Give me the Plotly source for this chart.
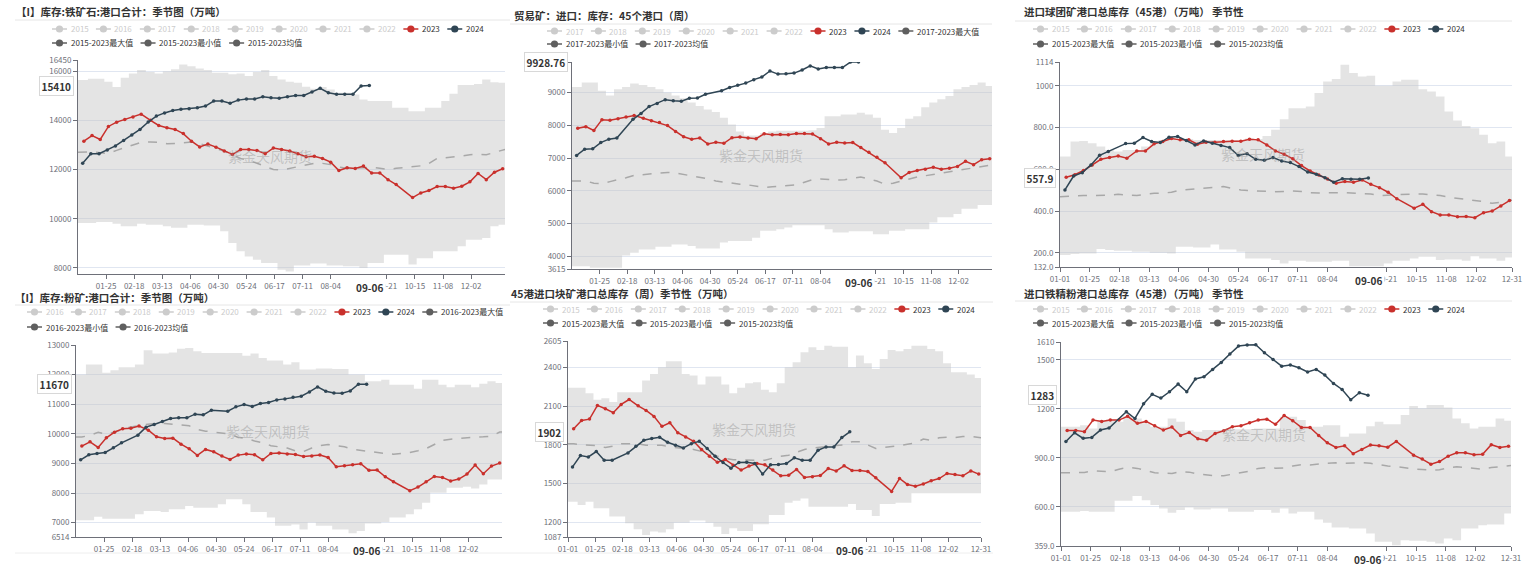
import plotly.graph_objects as go
import pandas as pd

W, H = 1532, 571
FONT = "Noto Sans CJK SC, Noto Sans, sans-serif"

# ---------------- x axis (month-day categories on a 366-day axis) ----------------
X_TICK_DAYS = [0, 24, 48, 72, 96, 120, 144, 168, 192, 216, 264, 288, 312, 336, 365]
X_TICK_TEXT = ['01-01', '01-25', '02-18', '03-13', '04-06', '04-30', '05-24', '06-17',
               '07-11', '08-04', '09-21', '10-15', '11-08', '12-02', '12-31']
LATEST_DAY = 249
LATEST_TEXT = '09-06'

# ---------------- panel 1: 铁矿石 港口合计 ----------------
P1_2023 = [13150, 13380, 13220, 13750, 13925, 14030, 14130, 14250, 14000, 13790,
           13700, 13630, 13460, 13150, 12920, 13040, 12910, 12750, 12610, 12810,
           12810, 12770, 12640, 12870, 12810, 12750, 12640, 12520, 12540, 12450,
           12300, 11960, 12070, 12040, 12140, 11860, 11860, 11590, 11390, None,
           10860, 11050, 11150, 11310, 11310, 11240, 11320, 11500, 11840, 11590,
           11890, 12030]
P1_2024 = [12260, 12640, 12640, 12790, 12960, 13180, 13400, 13630, 13930, 14170,
           14300, 14400, 14450, 14470, 14510, 14580, 14780, 14780, 14690, 14820,
           14870, 14870, 14960, 14920, 14900, 14960, 15010, 15010, 15150, 15300,
           15120, 15060, 15060, 15060, 15390, 15410]
P1_AVG = [12700, 12720, 12680, 12650, 12780, 12900, 13000, 13100, 13120, 13100,
          13050, 13060, 13100, 13120, 13050, 12950, 12850, 12750, 12600, 12450,
          12380, 12250, 12120, 12000, 11980, 12050, 12100, 12200, 12250, 12250,
          12200, 12100, 12050, 12050, 12080, 12100, 12050, 12000, 12050, 12080,
          12100, 12150, 12250, 12450, 12480, 12500, 12550, 12600, 12620, 12600,
          12700, 12820]
P1_MAX = [15640, 15690, 15690, 15570, 15350, 15730, 15900, 16040, 15960, 15900,
          15990, 16070, 16270, 16200, 16100, 16040, 15930, 15930, 15870, 15900,
          15800, 15960, 16040, 15800, 15660, 15570, 15530, 15360, 15280, 15350,
          15250, 15120, 15120, 15050, 14850, 14780, 14780, 14780, 14510, 14510,
          14370, 14370, 14510, 14510, 14780, 15080, 15430, 15430, 15480, 15660,
          15550, 15530]
P1_MIN = [9830, 9830, 9870, 9870, 9800, 9700, 9700, 9800, 9760, 9760,
          9700, 9630, 9630, 9760, 9760, 9730, 9730, 9490, 9020, 8680,
          8470, 8340, 8200, 8200, 7930, 7860, 8100, 8100, 8180, 8180,
          8100, 8100, 8070, 8070, 8000, 8200, 8200, 8540, 8540, 8540,
          8140, 8400, 8400, 8680, 8680, 8680, 8880, 9150, 9150, 9220,
          9700, 9760]

# ---------------- panel 2: 贸易矿 45港 ----------------
P2_2023 = [7905, 7957, 7840, 8170, 8150, 8200, 8255, 8300, 8215, 8140,
           8080, 7990, 7810, 7650, 7575, 7610, 7430, 7480, 7450, 7620,
           7640, 7610, 7590, 7740, 7710, 7720, 7710, 7750, 7750, 7730,
           7590, 7430, 7480, 7460, 7470, 7320, 7175, 7020, 6855, None,
           6400, 6560, 6620, 6660, 6720, 6660, 6690, 6745, 6900, 6795,
           6950, 6980]
P2_2024 = [7080, 7270, 7280, 7470, 7575, 7610, None, 8180, 8360, 8570,
           8665, 8780, 8750, 8730, 8820, 8830, 8945, None, 9050, 9150,
           9220, 9285, 9390, 9470, 9655, 9560, 9570, 9590, 9685, 9810,
           9715, 9760, 9760, 9760, 9925, 9928.76]
P2_AVG = [6300, 6300, 6230, 6220, 6280, 6330, 6400, 6470, 6500, 6520,
          6550, 6560, 6540, 6500, 6440, 6400, 6370, 6300, 6260, 6220,
          6200, 6180, 6150, 6100, 6120, 6140, 6150, 6180, 6260, 6340,
          6360, 6340, 6330, 6340, 6390, 6420, 6360, 6300, 6200, 6230,
          6300, 6370, 6420, 6460, 6500, 6540, 6590, 6640, 6660, 6700,
          6740, 6780]
P2_MAX = [9170, 9300, 9300, 9050, 8910, 9100, 9170, 9270, 9230, 9170,
          9100, 9000, 8910, 8820, 8690, 8585, 8480, 8400, 8225, 8020,
          7810, 7690, 7690, 7760, 7810, 7830, 7830, 7830, 7830, 7850,
          7915, 8275, 8275, 8330, 8330, 8380, 8330, 8225, 7865, 7760,
          7915, 8200, 8275, 8550, 8690, 8790, 8890, 9100, 9170, 9230,
          9300, 9200]
P2_MIN = [3700, 3700, 3650, 3650, 3650, 3650, 4025, 4110, 4210, 4210,
          4290, 4290, 4365, 4365, 4315, 4240, 4240, 4240, 4420, 4470,
          4470, 4470, 4570, 4780, 4780, 4830, 4880, 4950, 4950, 4950,
          4950, 4830, 4725, 4725, 4770, 4770, 4770, 4675, 4675, 4780,
          4780, 4830, 4830, 4830, 5035, 5190, 5190, 5290, 5450, 5450,
          5570, 5570]

# ---------------- panel 3: 球团矿 45港 ----------------
P3_2023 = [562, 574, 594, 621, 648, 656, 664, 653, 688, 688,
           722, 733, 747, 741, 741, 720, 730, 730, 733, 734,
           734, 744, 741, 717, 688, 672, 650, 618, 592, 573,
           554, 533, 541, 538, 549, 528, 512, 490, 459, None,
           414, 432, 397, 381, 381, 373, 374, 368, 392, 400,
           424, 450]
P3_2024 = [501, 568, 584, 621, 667, 685, None, 723, 725, 752,
           733, 728, 754, 757, 738, 717, 736, 725, 714, 704,
           666, 675, 648, 643, 656, 640, 632, 613, 587, 576,
           560, 538, 555, 552, 552, 557.9]
P3_AVG = [469, 472, 474, 474, 474, 476, 480, 478, 474, 480,
          485, 486, 490, 500, 504, 509, 512, 514, 517, 510,
          501, 498, 496, 494, 493, 494, 496, 494, 488, 486,
          488, 488, 488, 487, 486, 482, 474, 476, 480, 482,
          482, 482, 478, 474, 466, 461, 455, 453, 445, 437,
          442, 452]
P3_MAX = [661, 733, 736, 725, 709, 693, 685, 693, 693, 709,
          725, 740, 750, 745, 745, 740, 740, 740, 740, 740,
          740, 748, 745, 760, 789, 840, 893, 893, 901, 965,
          1021, 1032, 1101, 1061, 1045, 1048, 1000, 1000, 1021, 1029,
          1029, 984, 973, 949, 877, 834, 808, 797, 765, 725,
          733, 661]
P3_MIN = [189, 194, 197, 197, 218, 213, 210, 210, 205, 205,
          200, 200, 197, 229, 229, 226, 226, 240, 216, 216,
          205, 173, 173, 173, 165, 149, 162, 162, 157, 157,
          157, 162, 162, 136, 136, 136, 136, 149, 162, 162,
          173, 181, 181, 165, 168, 168, 162, 184, 173, 173,
          162, 178]

# ---------------- panel 4: 粉矿 港口合计 ----------------
P4_2023 = [9584, 9730, 9540, 9865, 10056, 10170, 10190, 10260, 10124, 9900,
           9843, 9854, 9650, 9494, 9270, 9472, 9393, 9247, 9135, 9280,
           9315, 9290, 9123, 9337, 9348, 9315, 9303, 9236, 9247, 9280,
           9202, 8887, 8920, 8955, 8990, 8765, 8775, 8550, 8380, None,
           8078, 8200, 8380, 8560, 8527, 8404, 8471, 8640, 8943, 8651,
           8910, 9011]
P4_2024 = [9123, 9290, 9337, 9370, 9528, 9696, None, 9955, 10225, 10315,
           10416, 10517, 10540, 10540, 10663, 10640, 10798, None, 10764, 10910,
           10989, 10922, 11023, 11057, 11146, 11180, 11236, 11270, 11416, 11585,
           11438, 11382, 11371, 11450, 11675, 11670]
P4_AVG = [9890, 9950, 10050, 9980, 10060, 10150, 10230, 10280, 10320, 10360,
          10350, 10330, 10300, 10270, 10150, 10090, 10060, 10030, 9990, 9880,
          9840, 9760, 9700, 9600, 9560, 9520, 9420, 9400, 9520, 9600,
          9640, 9600, 9560, 9480, 9440, 9410, 9370, 9330, 9310, 9340,
          9370, 9430, 9500, 9640, 9780, 9820, 9850, 9870, 9890, 9900,
          9920, 10060]
P4_MAX = [12000, 12340, 12340, 12060, 12150, 12250, 12250, 12340, 12820, 12710,
          12710, 12750, 12870, 12900, 12790, 12730, 12730, 12730, 12730, 12730,
          12640, 12710, 12560, 12480, 12480, 12340, 12420, 12170, 12170, 12210,
          12210, 12190, 12190, 12000, 12000, 11775, 11775, 11830, 11660, 11660,
          11660, 11520, 11830, 11830, 11660, 11570, 11660, 11660, 11570, 11690,
          11775, 11720]
P4_MIN = [7080, 7080, 7200, 7130, 7130, 7130, 7130, 7280, 7390, 7390,
          7360, 7450, 7450, 7560, 7500, 7500, 7500, 7620, 7790, 7790,
          7620, 7360, 7360, 7170, 6890, 6890, 6940, 6770, 7000, 6890,
          6890, 6770, 6770, 6640, 6720, 6970, 6970, 7020, 7170, 7170,
          7280, 7450, 7670, 8010, 8010, 8180, 8180, 8210, 8150, 8290,
          8460, 8460]

# ---------------- panel 5: 块矿 45港 ----------------
P5_2023 = [1926, 1990, 2000, 2106, 2080, 2050, 2114, 2152, 2103, 2067,
           2021, 1944, 1972, 1895, 1862, 1828, 1764, 1713, 1666, 1687,
           1643, 1605, 1636, 1656, 1646, 1605, 1561, 1566, 1610, 1548,
           1553, 1563, 1617, 1599, 1638, 1602, 1602, 1594, 1545, None,
           1440, 1540, 1494, 1481, 1497, 1522, 1540, 1579, 1571, 1561,
           1599, 1574]
P5_2024 = [1630, 1718, 1707, 1749, 1682, 1682, None, 1738, 1790, 1836,
           1849, 1859, 1821, 1797, 1777, 1810, 1828, 1772, 1713, 1664,
           1620, 1664, 1666, 1656, 1574, 1646, 1648, 1656, 1700, 1682,
           1682, 1759, 1785, 1785, 1857, 1902]
P5_AVG = [1810, 1800, 1800, 1795, 1780, 1790, 1810, 1810, 1808, 1797,
          1795, 1797, 1785, 1778, 1772, 1765, 1750, 1735, 1713, 1695,
          1685, 1682, 1678, 1680, 1682, 1700, 1713, 1720, 1740, 1765,
          1775, 1785, 1790, 1795, 1800, 1825, 1825, 1800, 1772, 1780,
          1785, 1795, 1805, 1815, 1845, 1836, 1855, 1860, 1857, 1865,
          1867, 1855]
P5_MAX = [2242, 2242, 2201, 2150, 2162, 2132, 2209, 2209, 2209, 2299,
          2350, 2402, 2448, 2448, 2350, 2337, 2268, 2330, 2330, 2268,
          2201, 2242, 2278, 2286, 2227, 2209, 2278, 2402, 2440, 2517,
          2556, 2535, 2569, 2561, 2561, 2402, 2492, 2432, 2389, 2466,
          2535, 2525, 2543, 2569, 2569, 2543, 2525, 2432, 2363, 2363,
          2345, 2319]
P5_MIN = [1360, 1335, 1360, 1309, 1309, 1245, 1245, 1193, 1147, 1103,
          1129, 1121, 1147, 1198, 1198, 1214, 1214, 1198, 1167, 1111,
          1154, 1134, 1134, 1185, 1185, 1257, 1257, 1353, 1368, 1386,
          1322, 1322, 1322, 1322, 1322, 1342, 1296, 1296, 1250, 1342,
          1342, 1353, 1353, 1425, 1425, 1425, 1425, 1425, 1425, 1425,
          1425, 1425]

# ---------------- panel 6: 铁精粉 45港 ----------------
P6_2023 = [1068, 1068, 1060, 1131, 1123, 1131, 1131, 1154, 1111, 1123,
           1096, 1070, 1088, 1037, 1055, 1017, 1008, 1049, 1066, 1090,
           1096, 1115, 1131, 1137, 1105, 1160, 1127, 1086, 1086, 1037,
           992, 963, 974, 925, 951, 978, 974, 965, 1000, None,
           916, 892, 861, 877, 910, 931, 931, 918, 922, 980,
           963, 970]
P6_2024 = [1000, 1053, 1019, 1025, 1070, 1082, None, 1182, 1141, 1231,
           1289, 1266, 1305, 1352, 1305, 1383, 1397, 1442, 1485, 1536,
           1585, 1591, 1593, 1544, 1503, 1462, 1469, 1452, 1426, 1442,
           1407, 1356, 1319, 1256, 1299, 1283]
P6_AVG = [808, 808, 810, 820, 816, 814, 830, 842, 835, 822,
          808, 806, 804, 815, 812, 800, 794, 790, 790, 798,
          808, 818, 835, 840, 836, 838, 850, 858, 856, 862,
          866, 869, 866, 868, 871, 866, 856, 850, 846, 838,
          832, 828, 824, 826, 838, 845, 840, 835, 830, 840,
          845, 852]
P6_MAX = [1090, 1090, 1100, 1080, 1131, 1135, 1121, 1155, 1141, 1111,
          1090, 1090, 1141, 1121, 1070, 1060, 1070, 1070, 1070, 1075,
          1075, 1075, 1080, 1080, 1080, 1152, 1152, 1131, 1090, 1090,
          1100, 1100, 1029, 1049, 1049, 1094, 1121, 1105, 1105, 1162,
          1218, 1203, 1224, 1224, 1209, 1141, 1111, 1080, 1090, 1090,
          1141, 1127]
P6_MIN = [569, 569, 573, 569, 569, 569, 636, 636, 665, 640,
          610, 589, 563, 579, 595, 583, 583, 589, 589, 569,
          569, 569, 579, 579, 563, 589, 558, 569, 569, 522,
          501, 473, 473, 467, 467, 436, 385, 385, 364, 395,
          391, 391, 385, 374, 405, 395, 467, 467, 487, 491,
          491, 558]

# ---------------- week positions (categories) ----------------
D23 = pd.date_range('2023-01-06', periods=52, freq='7D')
D24 = pd.date_range('2024-01-05', periods=36, freq='7D')
X23 = [(pd.Timestamp(2024, d.month, d.day) - pd.Timestamp(2024, 1, 1)).days for d in D23]
X24 = [d.dayofyear - 1 for d in D24]

RED = '#c9302c'
DARK = '#2f4554'
STAT = '#5f5f5f'
INACT = '#cccccc'
BAND = 'rgba(195,195,195,0.45)'
AXC = '#6E7079'
GRID = '#E0E6F1'

PANELS = [
    dict(title='【I】库存:铁矿石:港口合计：季节图（万吨）', tpos=(14, 12), sep=(15, 510, 20),
         rect=(78, 505, 60, 274), yr=(7756, 16450),
         yt=[8000, 10000, 12000, 14000, 16000, 16450],
         ytt=['8000', '10000', '12000', '14000', '16000', '16450'],
         edge_ticks=False, hl='15410', hlv=15410,
         d23=P1_2023, d24=P1_2024, avg=P1_AVG, mx=P1_MAX, mn=P1_MIN,
         lstart=52, lrows=(29, 43), y0=2015, split=10, span='2015-2023'),
    dict(title='贸易矿：进口：库存：45个港口（周）', tpos=(512, 15), sep=(510, 992, 24),
         rect=(572, 992, 62, 269), yr=(3615, 9928.76),
         yt=[3615, 4000, 5000, 6000, 7000, 8000, 9000, 9928.76],
         ytt=['3615', '4000', '5000', '6000', '7000', '8000', '9000', '9928.76'],
         edge_ticks=False, hl='9928.76', hlv=9928.76,
         d23=P2_2023, d24=P2_2024, avg=P2_AVG, mx=P2_MAX, mn=P2_MIN,
         lstart=547, lrows=(31, 44), y0=2017, split=9, span='2017-2023'),
    dict(title='进口球团矿港口总库存（45港）（万吨） 季节性', tpos=(1022, 12), sep=(1015, 1512, 21),
         rect=(1060, 1512, 62, 267), yr=(132, 1114),
         yt=[132, 200, 400, 600, 800, 1000, 1114],
         ytt=['132.0', '200.0', '400.0', '600.0', '800.0', '1000', '1114'],
         edge_ticks=True, hl='557.9', hlv=557.9,
         d23=P3_2023, d24=P3_2024, avg=P3_AVG, mx=P3_MAX, mn=P3_MIN,
         lstart=1033, lrows=(29, 44), y0=2015, split=10, span='2015-2023'),
    dict(title='【I】库存:粉矿:港口合计：季节图（万吨）', tpos=(13, 297), sep=(15, 510, 305),
         rect=(76, 502, 345, 537), yr=(6514, 13000),
         yt=[6514, 7000, 8000, 9000, 10000, 11000, 12000, 13000],
         ytt=['6514', '7000', '8000', '9000', '10000', '11000', '12000', '13000'],
         edge_ticks=False, hl='11670', hlv=11670,
         d23=P4_2023, d24=P4_2024, avg=P4_AVG, mx=P4_MAX, mn=P4_MIN,
         lstart=27, lrows=(312, 327), y0=2016, split=10, span='2016-2023'),
    dict(title='45港进口块矿港口总库存（周）季节性（万吨）', tpos=(509, 293), sep=(510, 993, 302),
         rect=(568, 981, 341, 537), yr=(1087, 2605),
         yt=[1087, 1200, 1500, 1800, 2100, 2400, 2605],
         ytt=['1087', '1200', '1500', '1800', '2100', '2400', '2605'],
         edge_ticks=True, hl='1902', hlv=1902,
         d23=P5_2023, d24=P5_2024, avg=P5_AVG, mx=P5_MAX, mn=P5_MIN,
         lstart=543, lrows=(309, 323), y0=2015, split=10, span='2015-2023'),
    dict(title='进口铁精粉港口总库存（45港）（万吨） 季节性', tpos=(1022, 293), sep=(1015, 1512, 301),
         rect=(1061, 1511, 342, 546), yr=(359, 1610),
         yt=[359, 600, 900, 1200, 1500, 1610],
         ytt=['359.0', '600.0', '900.0', '1200', '1500', '1610'],
         edge_ticks=True, hl='1283', hlv=1283,
         d23=P6_2023, d24=P6_2024, avg=P6_AVG, mx=P6_MAX, mn=P6_MIN,
         lstart=1033, lrows=(309, 323), y0=2015, split=10, span='2015-2023'),
]

fig = go.Figure()
shapes, annos = [], []


def px(x):
    return x / W


def py(y):
    return 1 - y / H


def text_w(s, fs):
    w = 0
    for ch in s:
        if ord(ch) > 0x2E80:
            w += fs
        elif ch.isdigit():
            w += 0.56 * fs
        elif ch == '-':
            w += 0.34 * fs
        else:
            w += 0.5 * fs
    return w


def legend_item(x, y, name, icol, tcol, fs=8):
    shapes.append(dict(type='line', xref='paper', yref='paper', x0=px(x), x1=px(x + 15),
                       y0=py(y), y1=py(y), line=dict(color=icol, width=1.5)))
    r = 3.6
    shapes.append(dict(type='circle', xref='paper', yref='paper', x0=px(x + 7.5 - r), x1=px(x + 7.5 + r),
                       y0=py(y + r), y1=py(y - r), fillcolor=icol, line=dict(color=icol, width=0)))
    annos.append(dict(xref='paper', yref='paper', x=px(x + 17.5), y=py(y), xanchor='left', yanchor='middle',
                      text=name, showarrow=False, font=dict(size=fs, color=tcol, family=FONT), borderpad=0))
    return x + 15 + 3.5 + text_w(name, fs) + 7.5


for k, p in enumerate(PANELS, start=1):
    xa = 'x' if k == 1 else f'x{k}'
    ya = 'y' if k == 1 else f'y{k}'
    x0, x1, yt_, yb_ = p['rect']
    bx = [0] + X23 + [365]
    mn = p['mn']
    mx = p['mx']
    fig.add_trace(go.Scatter(x=bx, y=[mn[0]] + mn + [mn[-1]], mode='lines', xaxis=xa, yaxis=ya,
                             line=dict(width=0, shape='hvh'), showlegend=False, hoverinfo='skip'))
    fig.add_trace(go.Scatter(x=bx, y=[mx[0]] + mx + [mx[-1]], mode='lines', xaxis=xa, yaxis=ya,
                             line=dict(width=0, shape='hvh'), fill='tonexty', fillcolor=BAND,
                             showlegend=False, hoverinfo='skip'))
    av = p['avg']
    fig.add_trace(go.Scatter(x=bx, y=[av[0]] + av + [av[-1]], mode='lines', xaxis=xa, yaxis=ya,
                             line=dict(color='#a8a8a8', width=1.5, dash='dash'),
                             showlegend=False, hoverinfo='skip'))
    fig.add_trace(go.Scatter(x=X23, y=p['d23'], mode='lines+markers', xaxis=xa, yaxis=ya, connectgaps=True,
                             line=dict(color=RED, width=1.5), marker=dict(size=3.5, color=RED),
                             showlegend=False))
    fig.add_trace(go.Scatter(x=X24, y=p['d24'], mode='lines+markers', xaxis=xa, yaxis=ya, connectgaps=True,
                             line=dict(color=DARK, width=1.5), marker=dict(size=3.5, color=DARK),
                             showlegend=False))

    if p['edge_ticks']:
        tv, tt = X_TICK_DAYS, X_TICK_TEXT
    else:
        tv, tt = X_TICK_DAYS[1:-1], X_TICK_TEXT[1:-1]

    xd = [px(x0), px(x1)]
    yd = [py(yb_), py(yt_)]
    fig.layout[('xaxis' if k == 1 else f'xaxis{k}')] = dict(
        domain=xd, range=[0, 365], anchor=ya, tickmode='array', tickvals=tv, ticktext=tt,
        showgrid=False, zeroline=False, showline=True, linecolor=AXC, linewidth=1, automargin=False,
        ticks='outside', ticklen=4, tickcolor=AXC, tickfont=dict(size=8, color=AXC, family=FONT),
        fixedrange=True)
    fig.layout[('yaxis' if k == 1 else f'yaxis{k}')] = dict(
        domain=yd, range=list(p['yr']), anchor=xa, tickmode='array', tickvals=p['yt'], ticktext=p['ytt'],
        showgrid=True, gridcolor=GRID, gridwidth=1, zeroline=False, showline=True, linecolor=AXC,
        linewidth=1, ticks='outside', ticklen=4, tickcolor=AXC, automargin=False,
        tickfont=dict(size=8, color=AXC, family=FONT), fixedrange=True)

    # title + separator
    tx, ty = p['tpos']
    annos.append(dict(xref='paper', yref='paper', x=px(tx), y=py(ty), xanchor='left', yanchor='middle',
                      text='<b>' + p['title'] + '</b>', showarrow=False,
                      font=dict(size=10.5, color='#333', family=FONT)))
    sx0, sx1, sy = p['sep']
    shapes.append(dict(type='line', xref='paper', yref='paper', x0=px(sx0), x1=px(sx1), y0=py(sy), y1=py(sy),
                       line=dict(color='#e6e6e6', width=1)))

    # watermark
    annos.append(dict(xref=xa + ' domain', yref=ya + ' domain', x=0.45, y=0.55, text='紫金天风期货',
                      showarrow=False, font=dict(size=14, color='rgba(150,150,150,0.45)', family=FONT)))

    # latest-date label on x axis
    annos.append(dict(xref=xa, yref=ya + ' domain', x=LATEST_DAY, y=0, yanchor='top', yshift=-3,
                      text='<b>' + LATEST_TEXT + '</b>', showarrow=False, bgcolor='white', borderpad=2,
                      font=dict(size=10, color='#333', family=FONT)))
    # latest-value label on y axis
    annos.append(dict(xref=xa + ' domain', yref=ya, x=0, y=p['hlv'], xanchor='right', xshift=-4,
                      text='<b>' + p['hl'] + '</b>', showarrow=False, bgcolor='white', bordercolor='#d8d8d8',
                      borderwidth=1, borderpad=1.5, font=dict(size=10, color='#333', family=FONT)))

    # legend (two rows)
    items = []
    for yr in range(p['y0'], 2023):
        items.append((str(yr), INACT, INACT))
    items.append(('2023', RED, '#333'))
    items.append(('2024', DARK, '#333'))
    items.append((p['span'] + '最大值', STAT, '#333'))
    items.append((p['span'] + '最小值', STAT, '#333'))
    items.append((p['span'] + '均值', STAT, '#333'))
    row1, row2 = items[:p['split']], items[p['split']:]
    cx = p['lstart']
    for name, ic, tc in row1:
        cx = legend_item(cx, p['lrows'][0], name, ic, tc)
    cx = p['lstart']
    for name, ic, tc in row2:
        cx = legend_item(cx, p['lrows'][1], name, ic, tc)

# bottom borders of lower-left panels
for bx0, bx1 in [(15, 510), (510, 993)]:
    shapes.append(dict(type='line', xref='paper', yref='paper', x0=px(bx0), x1=px(bx1), y0=py(553), y1=py(553),
                       line=dict(color='#eeeeee', width=1)))

fig.update_layout(width=W, height=H, margin=dict(l=0, r=0, t=0, b=0, autoexpand=False), paper_bgcolor='white',
                  plot_bgcolor='white', showlegend=False, shapes=shapes, annotations=annos,
                  font=dict(family=FONT), hovermode=False)
fig.write_html('out.html', config={'displayModeBar': False},
               post_script="document.body.style.margin='0px';document.body.style.overflow='hidden';")
